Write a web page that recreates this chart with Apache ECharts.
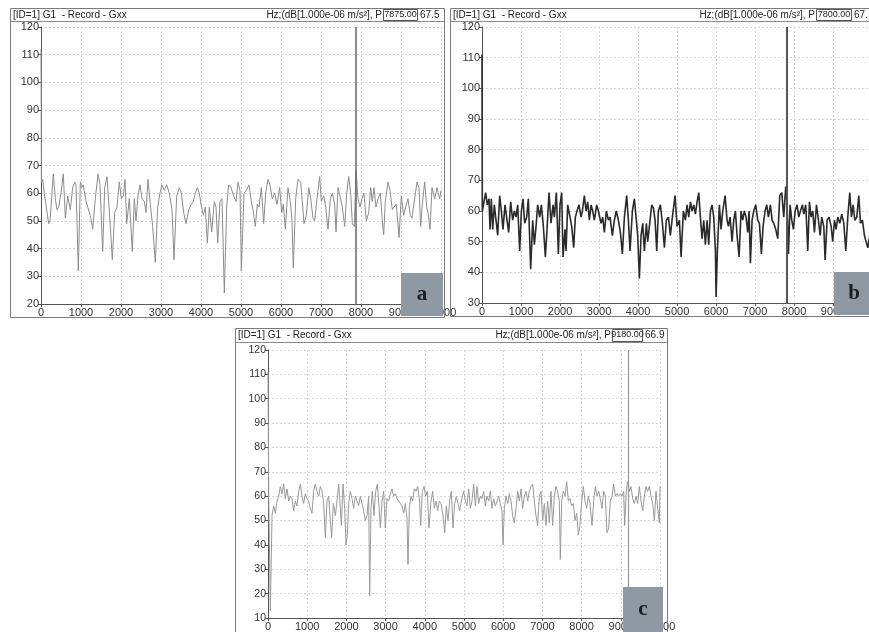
<!DOCTYPE html>
<html>
<head>
<meta charset="utf-8">
<script src="https://cdn.jsdelivr.net/npm/echarts@6/dist/echarts.min.js"></script>
<style>
html,body{margin:0;padding:0;background:#fff}
#main{width:869px;height:632px}
</style>
</head>
<body>
<div id="main"></div>
<script>
// 频谱数据 (Hz, dB) 从图上读取
var freqA = [0,10,42,83,125,192,225,308,358,400,
  442,500,558,608,667,733,792,842,875,933,
  983,1017,1058,1125,1167,1233,1292,1358,1425,1475,
  1542,1592,1650,1725,1783,1842,1900,1958,2008,2058,
  2100,2142,2208,2283,2333,2375,2425,2475,2525,2583,
  2625,2675,2733,2792,2858,2917,2975,3025,3083,3142,
  3208,3275,3325,3392,3458,3508,3567,3625,3692,3758,
  3808,3858,3908,3958,4000,4058,4108,4158,4208,4267,
  4333,4375,4417,4475,4525,4583,4642,4692,4750,4817,
  4875,4925,4975,5008,5075,5133,5200,5258,5300,5358,
  5408,5450,5508,5567,5617,5675,5725,5783,5842,5900,
  5967,6017,6058,6108,6175,6233,6275,6308,6367,6425,
  6492,6533,6575,6633,6692,6742,6800,6842,6900,6967,
  7008,7067,7117,7175,7233,7283,7342,7375,7425,7475,
  7533,7592,7642,7692,7742,7783,7833,7875,7925,7975,
  8025,8075,8133,8192,8242,8283,8325,8375,8425,8483,
  8533,8567,8608,8675,8725,8783,8825,8883,8950,9008,
  9067,9117,9175,9233,9275,9342,9400,9450,9492,9533,
  9592,9642,9675,9725,9775,9842,9900,9967,10000];
var levelA = [112,64,65,60,60,49,50,67,58,54,
  55,60,67,51,59,54,62,64,63,32,
  64,62,63,57,57,52,47,58,67,63,
  39,62,66,50,36,53,55,64,58,59,
  65,49,58,39,58,50,59,63,58,57,
  53,65,56,48,35,55,60,63,61,63,
  60,54,36,59,62,60,53,49,54,56,
  57,60,62,60,56,52,55,42,55,46,
  57,55,42,57,58,24,55,63,62,59,
  57,64,61,32,60,61,63,57,54,48,
  56,55,62,49,60,65,63,58,60,56,
  62,53,56,47,62,57,50,33,58,65,
  64,57,49,52,62,58,51,50,58,66,
  57,59,55,47,58,60,56,46,62,59,
  55,48,60,66,60,49,48,68,58,55,
  58,60,50,53,62,57,62,55,58,60,
  50,45,57,64,61,54,55,56,44,59,
  52,55,58,52,51,58,64,62,48,56,
  64,55,53,47,62,58,62,58,61];

var freqB = [0,8,51,94,137,180,205,239,274,316,
  359,402,453,496,538,590,641,684,735,786,
  829,872,915,966,1009,1051,1094,1145,1188,1248,
  1299,1342,1385,1427,1479,1521,1573,1624,1667,1718,
  1769,1821,1855,1906,1957,2000,2043,2077,2128,2154,
  2197,2256,2299,2350,2393,2436,2487,2538,2573,2624,
  2667,2709,2752,2795,2838,2880,2940,2983,3051,3094,
  3137,3188,3239,3282,3342,3393,3444,3496,3547,3598,
  3650,3709,3752,3795,3855,3906,3949,3991,4034,4077,
  4120,4162,4214,4248,4291,4350,4393,4436,4479,4521,
  4573,4624,4675,4726,4778,4829,4880,4949,5000,5060,
  5103,5162,5214,5256,5299,5342,5385,5427,5470,5513,
  5556,5598,5641,5684,5726,5769,5812,5855,5897,5940,
  5983,6000,6034,6085,6128,6171,6231,6282,6316,6359,
  6410,6453,6496,6538,6590,6641,6684,6726,6769,6812,
  6846,6880,6923,6966,7017,7068,7111,7162,7205,7256,
  7299,7342,7393,7436,7479,7530,7581,7632,7684,7735,
  7786,7821,7855,7897,7940,7983,8026,8077,8120,8162,
  8214,8248,8299,8350,8393,8436,8479,8521,8573,8624,
  8667,8709,8761,8795,8846,8897,8949,8991,9034,9077,
  9120,9171,9222,9274,9325,9376,9427,9470,9513,9556,
  9607,9658,9701,9752,9803,9846,9889,9940,10000];
var levelB = [111,60,63,66,62,64,54,64,54,62,
  57,52,65,60,54,62,57,53,63,57,
  60,58,62,47,60,64,56,58,64,41,
  57,49,55,62,58,62,55,45,54,66,
  56,62,58,66,46,62,66,45,54,47,
  62,58,55,48,58,60,62,58,60,65,
  60,63,57,62,60,57,62,60,56,58,
  53,60,57,58,52,57,60,57,53,46,
  58,65,57,47,60,64,58,52,38,52,
  56,47,56,50,55,62,61,57,47,60,
  62,56,48,57,58,52,58,65,55,57,
  45,60,57,62,58,63,60,62,59,63,
  66,58,51,57,49,57,49,60,62,58,
  47,32,47,62,54,60,65,57,55,58,
  50,57,60,52,45,60,57,60,58,53,
  60,43,57,60,62,57,56,46,55,60,
  62,58,62,57,56,54,51,65,66,58,
  68,62,46,62,57,54,60,62,58,60,
  62,59,62,47,63,58,60,53,62,57,
  52,58,55,44,57,58,55,50,57,54,
  58,56,59,56,47,58,66,58,62,57,
  58,65,56,57,52,50,48,52,55];

var freqC = [0,17,60,102,145,187,230,272,315,357,
  400,442,485,527,570,612,655,697,740,782,
  825,867,910,952,995,1037,1080,1122,1165,1207,
  1250,1293,1335,1378,1420,1463,1505,1548,1590,1624,
  1667,1718,1760,1803,1846,1871,1913,1956,1990,2024,
  2058,2100,2143,2185,2228,2270,2313,2355,2398,2440,
  2483,2526,2568,2594,2628,2662,2704,2747,2789,2832,
  2866,2908,2951,2993,3036,3078,3121,3163,3206,3248,
  3291,3333,3376,3418,3461,3503,3546,3571,3605,3648,
  3690,3733,3776,3818,3861,3895,3937,3980,4022,4065,
  4107,4158,4201,4243,4286,4328,4371,4413,4464,4507,
  4549,4592,4634,4677,4719,4762,4804,4847,4889,4932,
  4991,5034,5077,5119,5162,5204,5247,5289,5332,5374,
  5417,5459,5502,5544,5587,5629,5672,5714,5757,5799,
  5842,5884,5927,5969,5995,6029,6071,6114,6156,6199,
  6241,6284,6327,6369,6412,6454,6497,6539,6582,6624,
  6667,6709,6752,6794,6837,6879,6922,6964,7007,7049,
  7092,7134,7177,7219,7262,7304,7347,7389,7432,7457,
  7491,7534,7577,7619,7662,7704,7747,7789,7832,7874,
  7917,7959,8002,8044,8087,8129,8172,8214,8265,8308,
  8350,8393,8435,8478,8520,8563,8605,8648,8690,8733,
  8776,8818,8861,8903,8946,8988,9031,9073,9099,9141,
  9175,9218,9260,9303,9345,9388,9430,9473,9515,9558,
  9600,9643,9685,9728,9770,9813,9855,9898,9940,9983,10000];
var levelC = [111,62,13,52,56,53,58,60,64,61,
  65,59,63,58,60,59,54,58,56,62,
  65,60,57,61,59,58,55,53,62,65,
  62,60,64,62,57,43,58,60,50,43,
  57,52,58,65,55,48,65,55,40,44,
  57,62,59,55,60,58,56,60,57,54,
  50,52,60,19,55,62,52,62,65,56,
  47,58,62,47,59,58,61,63,60,61,
  59,58,57,56,53,57,51,32,55,60,
  58,63,62,64,59,48,62,64,60,62,
  47,58,62,55,58,54,58,57,52,45,
  56,50,58,62,47,57,60,57,54,58,
  62,58,56,63,55,58,65,56,64,57,
  60,59,62,56,60,58,62,55,59,56,
  58,60,57,54,40,55,60,57,61,58,
  52,49,55,62,58,63,55,60,62,58,
  62,64,65,58,52,48,60,62,50,57,
  48,58,49,62,48,60,64,62,58,34,
  58,62,60,66,58,59,56,57,50,53,
  44,48,58,64,58,55,60,57,48,58,
  64,60,62,59,55,62,60,45,47,58,
  60,65,60,61,60,61,60,62,48,62,
  66,62,64,59,57,60,57,64,58,54,
  60,64,62,64,60,57,50,62,55,49,64];

// 光标位置和读数
var cursorFreq = [7875, 7800, 9180];
var cursorText = ['7875.00', '7800.00', '9180.00'];
var cursorLevel = ['67.5', '67.', '66.9'];
var panelLetter = ['a', 'b', 'c'];

var font = 'Liberation Sans, Arial, sans-serif';

// 面板布局 (b 图右边被裁掉, 频率轴只显示到 9920)
var panels = [
  {frame:[10,8,434,309], hy:15, hl:21, grid:{left:41,top:27,width:400,height:277}, xmax:10000, ymin:20, ymax:120,
   unitRight:383, valX:383, valW:34, box:[401,273,42,43], color:'#8c8c8c', lw:1, cur:'#666', curW:1.5},
  {frame:[450,8,440,308], hy:15, hl:21, grid:{left:482,top:27,width:387,height:276}, xmax:9920, ymin:30, ymax:120,
   unitRight:816, valX:816, valW:35, box:[834,272,40,43], color:'#2a2a2a', lw:1.6, cur:'#555', curW:2},
  {frame:[235,328,432,310], hy:335, hl:342, grid:{left:268,top:350,width:392,height:271}, xmax:10000, ymin:10, ymax:120,
   unitRight:612, valX:612, valW:30, box:[623,587,40,45], color:'#9a9a9a', lw:1, cur:'#999', curW:1.2}
];

var freqs = [freqA, freqB, freqC];
var levels = [levelA, levelB, levelC];

var myChart = echarts.init(document.getElementById('main'));

var grids = [], xAxes = [], yAxes = [], series = [], graphics = [];

panels.forEach(function(p, i){
  grids.push(p.grid);
  xAxes.push({
    gridIndex:i, type:'value', min:0, max:p.xmax, interval:1000,
    axisLine:{show:true, onZero:false, lineStyle:{color:'#555'}},
    axisTick:{show:true, length:3, lineStyle:{color:'#555'}},
    axisLabel:{fontSize:11, color:'#333', margin:3, fontFamily:font,
      showMaxLabel: p.xmax % 1000 === 0,
      formatter:function(v){ return v % 1000 === 0 ? String(v) : ''; }},
    splitLine:{show:true, lineStyle:{color:'#d6d6d6', type:[2,2]}}
  });
  yAxes.push({
    gridIndex:i, type:'value', min:p.ymin, max:p.ymax, interval:10,
    axisLine:{show:true, lineStyle:{color:'#555'}},
    axisTick:{show:true, length:3, lineStyle:{color:'#555'}},
    axisLabel:{fontSize:i==2?10.5:11, color:'#333', margin:2, fontFamily:font},
    splitLine:{show:true, lineStyle:{color:'#d6d6d6', type:[2,2]}}
  });
  series.push({
    type:'line', xAxisIndex:i, yAxisIndex:i, symbol:'none', clip:true,
    lineStyle:{color:p.color, width:p.lw},
    data: freqs[i].map(function(f, k){ return [f, levels[i][k]]; }),
    markLine:{
      silent:true, symbol:'none', animation:false, label:{show:false},
      lineStyle:{color:p.cur, width:p.curW, type:'solid'},
      data:[{xAxis:cursorFreq[i]}]
    }
  });

  var fr = p.frame;
  graphics.push(
    {type:'rect', z:100, shape:{x:fr[0]+0.5, y:fr[1]+0.5, width:fr[2], height:fr[3]},
     style:{fill:'none', stroke:'#7a7a7a', lineWidth:1}},
    {type:'line', z:100, shape:{x1:fr[0], y1:p.hl+0.5, x2:fr[0]+fr[2], y2:p.hl+0.5},
     style:{stroke:'#8a8a8a', lineWidth:1}},
    {type:'text', z:101, x:fr[0]+3, y:p.hy,
     style:{text:'[ID=1] G1  - Record - Gxx', font:'10px '+font, fill:'#222',
            textAlign:'left', textVerticalAlign:'middle', align:'left', verticalAlign:'middle'}},
    {type:'text', z:101, x:p.unitRight-1, y:p.hy,
     style:{text:'Hz;(dB[1.000e-06 m/s²], P', font:'10px '+font, fill:'#222',
            textAlign:'right', textVerticalAlign:'middle', align:'right', verticalAlign:'middle'}},
    {type:'rect', z:100, shape:{x:p.valX+0.5, y:fr[1]+1.5, width:p.valW, height:p.hl-fr[1]-2},
     style:{fill:'#fff', stroke:'#555', lineWidth:1}},
    {type:'text', z:101, x:p.valX+p.valW/2+0.5, y:p.hy,
     style:{text:cursorText[i], font:'9px '+font, fill:'#222',
            textAlign:'center', textVerticalAlign:'middle', align:'center', verticalAlign:'middle'}},
    {type:'text', z:101, x:p.valX+p.valW+3, y:p.hy,
     style:{text:cursorLevel[i], font:'10px '+font, fill:'#222',
            textAlign:'left', textVerticalAlign:'middle', align:'left', verticalAlign:'middle'}},
    {type:'rect', z:102, shape:{x:p.box[0], y:p.box[1], width:p.box[2], height:p.box[3]},
     style:{fill:'#8e99a4'}},
    {type:'text', z:103, x:p.box[0]+p.box[2]/2, y:p.box[1]+p.box[3]/2,
     style:{text:panelLetter[i], font:'bold 21px Liberation Serif, DejaVu Serif, serif', fill:'#1e1e1e',
            textAlign:'center', textVerticalAlign:'middle', align:'center', verticalAlign:'middle'}}
  );
});

var option = {
  animation:false,
  backgroundColor:'#fff',
  grid:grids,
  xAxis:xAxes,
  yAxis:yAxes,
  series:series,
  graphic:graphics
};
myChart.setOption(option);
</script>
</body>
</html>
